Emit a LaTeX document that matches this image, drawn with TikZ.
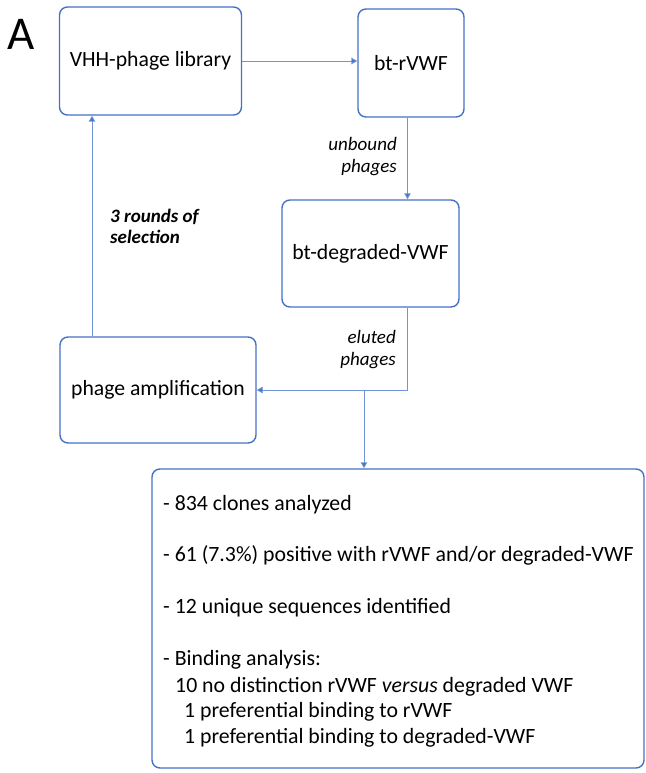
\documentclass[tikz,border=0pt]{standalone}
\usepackage{fontspec}
\setmainfont{Carlito}
\usetikzlibrary{arrows.meta}
\definecolor{boxblue}{HTML}{4472C4}
\definecolor{lineblue}{HTML}{6F95D8}
\tikzset{
  box/.style={draw=boxblue, line width=1.4pt, rounded corners=8pt, inner sep=0pt,
    font=\fontsize{21.7}{26}\selectfont, text=black},
  conn/.style={draw=lineblue, line width=0.9pt},
  arr/.style={conn, -{Triangle[length=6pt,width=6.5pt,fill=boxblue]}},
  lbl/.style={inner sep=0pt, font=\fontsize{19}{22}\selectfont\itshape},
  line/.style={inner sep=0pt, anchor=base west, font=\fontsize{21.8}{26}\selectfont}
}
\begin{document}
\begin{tikzpicture}[x=1pt,y=-1pt]
\useasboundingbox (0,0) rectangle (645,773);
\node[inner sep=0pt, anchor=base west, font=\fontsize{47}{50}\selectfont] (lab) at (7,50) {A};
\node[box, minimum width=182pt, minimum height=108pt] (b1) at (150.5,61) {VHH-phage library};
\node[box, minimum width=106pt, minimum height=108pt] (b2) at (411,63) {bt-rVWF};
\node[box, minimum width=177pt, minimum height=107pt] (b3) at (370.5,253.5) {bt-degraded-VWF};
\node[box, minimum width=196pt, minimum height=106pt] (b4) at (158,390) {phage amplification};
\node[box, minimum width=492pt, minimum height=299pt] (b5) at (398,618.5) {};
\coordinate (j1) at (407.5,390);
\coordinate (j2) at (364,390);
\coordinate (k) at (92,250);
\draw[arr] (b1.east) -- (b1.east -| b2.west);
\draw[arr] (j1 |- b2.south) -- (j1 |- b3.north);
\draw[arr] (j1 |- b3.south) -- (j1) -- (j1 -| b4.east);
\draw[arr] (j2) -- (j2 |- b5.north);
\draw[arr] (k |- b4.north) -- (k |- b1.south);
\node[lbl, anchor=north east, align=right] (t1) at (397,137) {unbound\\phages};
\node[lbl, anchor=north east, align=right] (t2) at (396,330) {eluted\\phages};
\node[lbl, anchor=north west, align=left, font=\fontsize{19}{21}\selectfont\bfseries\itshape] (t3) at (110,208.5) {3 rounds of\\selection};
\node[line] (l1) at (163,510) {- 834 clones analyzed};
\node[line] (l2) at (163,561) {- 61 (7.3\%) positive with rVWF and/or degraded-VWF};
\node[line] (l3) at (163,613) {- 12 unique sequences identified};
\node[line] (l4) at (163,665) {- Binding analysis:};
\node[line] (l5) at (175,692) {10 no distinction rVWF \textit{versus} degraded VWF};
\node[line] (l6) at (184,717) {1 preferential binding to rVWF};
\node[line] (l7) at (184,743) {1 preferential binding to degraded-VWF};
\end{tikzpicture}
\end{document}
